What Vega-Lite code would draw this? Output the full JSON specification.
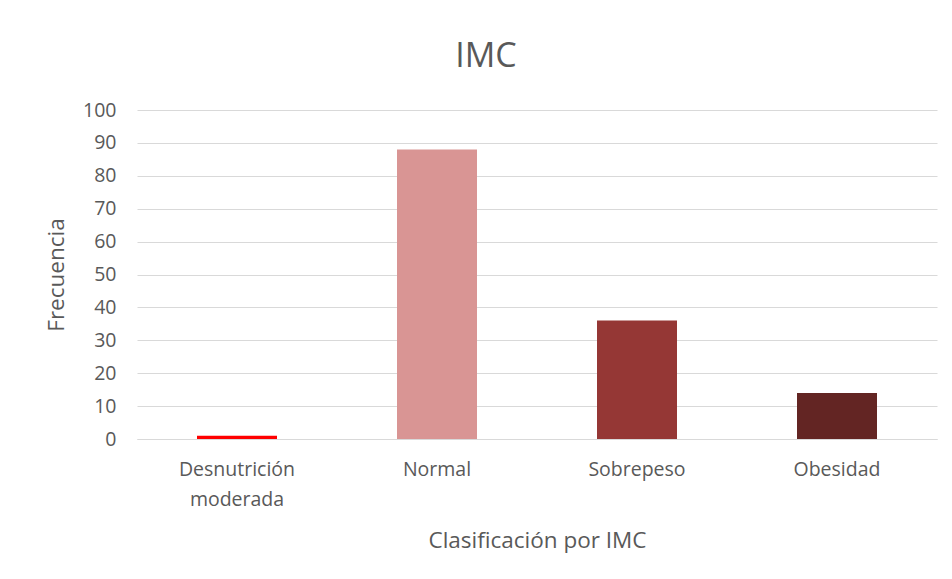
{
  "$schema": "https://vega.github.io/schema/vega-lite/v6.json",
  "autosize": "none",
  "width": 800,
  "height": 329,
  "padding": {"left": 137, "top": 110, "right": 15, "bottom": 140},
  "background": "white",
  "data": {"values": [
    {"clase": "Desnutrición moderada", "frecuencia": 1, "color": "#FF0000"},
    {"clase": "Normal", "frecuencia": 88, "color": "#D99594"},
    {"clase": "Sobrepeso", "frecuencia": 36, "color": "#953735"},
    {"clase": "Obesidad", "frecuencia": 14, "color": "#632523"}
  ]},
  "title": {
    "text": "IMC",
    "fontSize": 34,
    "font": "Open Sans",
    "fontWeight": "normal",
    "color": "#595959",
    "anchor": "middle",
    "dx": -51,
    "offset": 26
  },
  "mark": {"type": "bar"},
  "encoding": {
    "x": {
      "field": "clase",
      "type": "nominal",
      "sort": null,
      "scale": {"paddingInner": 0.6, "paddingOuter": 0.3},
      "axis": {
        "title": "Clasificación por IMC",
        "labelAngle": 0,
        "labelExpr": "datum.label == 'Desnutrición moderada' ? ['Desnutrición', 'moderada'] : datum.label",
        "labelLineHeight": 30,
        "labelPadding": 21,
        "titlePadding": 21,
        "ticks": false,
        "domainColor": "#D9D9D9",
        "domainWidth": 1
      }
    },
    "y": {
      "field": "frecuencia",
      "type": "quantitative",
      "scale": {"domain": [0, 100]},
      "axis": {
        "title": "Frecuencia",
        "values": [0, 10, 20, 30, 40, 50, 60, 70, 80, 90, 100],
        "domain": false,
        "ticks": false,
        "labelPadding": 21,
        "titlePadding": 14,
        "gridColor": "#D9D9D9",
        "gridWidth": 1
      }
    },
    "color": {"field": "color", "type": "nominal", "scale": null}
  },
  "config": {
    "view": {"stroke": null},
    "axis": {
      "labelFont": "Open Sans",
      "titleFont": "Open Sans",
      "labelFontSize": 19.5,
      "titleFontSize": 22.5,
      "labelColor": "#595959",
      "titleColor": "#595959",
      "titleFontWeight": "normal"
    }
  }
}
